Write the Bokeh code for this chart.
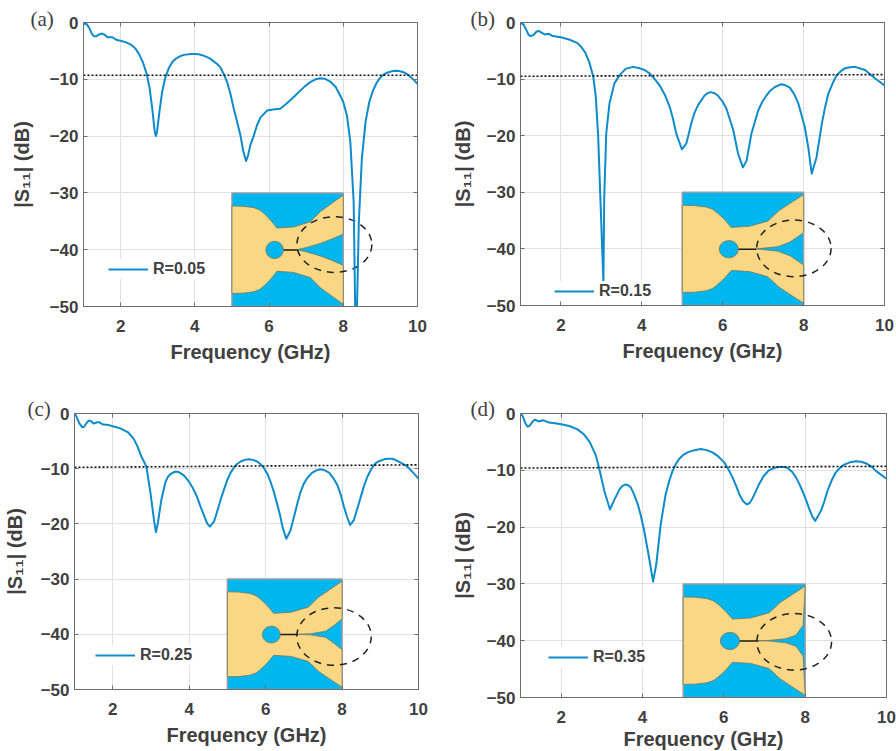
from bokeh.plotting import figure
from bokeh.layouts import column, row
from bokeh.models import Legend, LegendItem, Title, LinearAxis, FixedTicker, CustomJSTickFormatter
from bokeh.embed import file_html
from bokeh.resources import INLINE

# ---------- S11 curves (frequency GHz, dB) ----------
f_a = [1.0,1.08,1.15,1.22,1.28,1.35,1.42,1.5,1.58,1.65,1.78,1.9,2.0,2.15,2.3,2.4,2.5,2.6,2.7,2.78,2.85,2.92,2.95,2.98,3.05,3.12,3.2,3.3,3.4,3.5,3.6,3.7,3.9,4.0,4.1,4.2,4.3,4.4,4.5,4.6,4.69,4.78,4.87,4.96,5.05,5.15,5.23,5.3,5.38,5.43,5.5,5.59,5.68,5.77,5.95,6.1,6.3,6.45,6.57,6.7,6.84,6.97,7.11,7.25,7.38,7.5,7.65,7.8,7.92,8.0,8.1,8.19,8.28,8.32,8.37,8.42,8.5,8.6,8.7,8.8,8.9,8.95,9.0,9.1,9.2,9.3,9.4,9.5,9.6,9.7,9.8,9.9,10.0]
s_a = [-0.2,-0.25,-0.9,-1.9,-2.4,-2.4,-2.1,-1.95,-2.2,-2.6,-2.6,-3.1,-3.2,-3.5,-4.0,-4.6,-5.6,-7.0,-9.0,-11.5,-15,-19.3,-20,-19.3,-15.5,-12.2,-9.8,-8.0,-6.9,-6.3,-5.95,-5.7,-5.55,-5.55,-5.6,-5.75,-6.0,-6.3,-6.8,-7.3,-7.9,-9.1,-10.5,-12.6,-15.2,-17.8,-19.9,-22.5,-24.4,-23.5,-21.5,-19.9,-18,-16.7,-15.5,-15.3,-15.2,-14.4,-13.7,-12.9,-12,-11.2,-10.5,-10.0,-9.8,-9.9,-10.4,-11.4,-12.9,-14.0,-16.4,-21,-31.6,-50,-50,-35,-24,-17.5,-14,-12,-10.6,-10.1,-9.7,-9.1,-8.8,-8.6,-8.5,-8.55,-8.7,-9.0,-9.5,-10.1,-10.8]

f_b = [1,1.07,1.15,1.2,1.25,1.32,1.4,1.45,1.55,1.6,1.7,1.8,2,2.2,2.4,2.5,2.6,2.7,2.8,2.86,2.92,2.98,3.05,3.07,3.12,3.2,3.32,3.45,3.6,3.78,3.95,4.07,4.19,4.32,4.44,4.57,4.69,4.77,4.85,4.99,5.1,5.22,5.3,5.39,5.55,5.62,5.7,5.8,5.88,6.0,6.09,6.26,6.38,6.5,6.59,6.71,6.88,6.98,7.08,7.18,7.29,7.45,7.55,7.66,7.77,7.87,8.03,8.12,8.2,8.32,8.45,8.53,8.61,8.72,8.82,8.92,9.02,9.15,9.27,9.52,9.77,10]
s_b = [-0.1,-0.3,-1.4,-2.2,-2.4,-2.2,-1.6,-1.5,-1.9,-2.1,-2.0,-2.4,-2.6,-3.0,-3.6,-4.3,-5.3,-7,-9.6,-13,-20,-32,-46,-31,-19.6,-14.3,-10.8,-9.3,-8.2,-7.84,-8.1,-8.4,-9,-10,-11.1,-12.8,-14.9,-17,-19.6,-22.4,-21.4,-17.9,-16,-14.6,-12.9,-12.5,-12.3,-12.5,-12.9,-14,-15.2,-19,-23.2,-25.6,-24.4,-19.6,-15.5,-14,-12.9,-12,-11.4,-10.9,-11.1,-11.5,-12.7,-14.3,-18.5,-22.3,-26.7,-23.8,-17.9,-15,-12.6,-10.7,-9.3,-8.6,-8.1,-7.9,-7.84,-8.4,-9.9,-11.1]

f_c = [1,1.05,1.12,1.2,1.25,1.3,1.37,1.42,1.5,1.6,1.65,1.75,1.9,2,2.2,2.4,2.55,2.65,2.75,2.88,2.99,3.08,3.13,3.18,3.27,3.38,3.45,3.51,3.58,3.66,3.75,3.86,3.97,4.08,4.2,4.3,4.38,4.47,4.54,4.65,4.73,4.82,4.91,5.0,5.08,5.17,5.26,5.35,5.45,5.56,5.67,5.78,5.87,5.96,6.05,6.13,6.22,6.31,6.38,6.44,6.54,6.65,6.74,6.83,6.91,7.0,7.1,7.22,7.33,7.44,7.55,7.66,7.77,7.88,7.97,8.05,8.13,8.21,8.31,8.4,8.49,8.57,8.66,8.77,8.88,8.98,9.1,9.2,9.32,9.42,9.53,9.64,9.75,9.87,10]
s_c = [0,-0.5,-1.7,-2.5,-2.4,-1.9,-1.3,-1.3,-1.8,-1.6,-1.6,-2,-2.1,-2.3,-2.7,-3.4,-4.6,-6,-7.8,-9.6,-14.5,-19.3,-21.5,-19.9,-15.7,-12.4,-11.4,-11,-10.7,-10.5,-10.7,-11.2,-12.1,-13.3,-15,-16.9,-18.3,-19.9,-20.5,-19.6,-17.8,-15.7,-13.8,-12,-10.8,-9.8,-9.1,-8.7,-8.4,-8.3,-8.4,-8.7,-9.2,-9.9,-11,-12.4,-14.3,-16.6,-18.5,-20.5,-22.7,-21.2,-18.8,-16.3,-14.3,-12.7,-11.6,-10.7,-10.3,-10.1,-10.3,-10.7,-11.7,-13,-14.8,-16.9,-18.7,-20.2,-19.3,-17.2,-15.1,-13.2,-11.5,-10,-9,-8.6,-8.3,-8.2,-8.2,-8.5,-8.9,-9.3,-9.9,-10.8,-11.8]

f_d = [1,1.05,1.12,1.17,1.22,1.3,1.35,1.45,1.55,1.6,1.7,1.85,2,2.2,2.4,2.55,2.7,2.85,2.93,3.06,3.2,3.3,3.43,3.5,3.57,3.64,3.71,3.79,3.88,3.96,4.04,4.16,4.26,4.34,4.45,4.57,4.66,4.74,4.82,4.9,5.0,5.11,5.25,5.43,5.58,5.72,5.87,6.01,6.11,6.21,6.3,6.38,6.47,6.56,6.63,6.7,6.78,6.87,6.98,7.11,7.23,7.36,7.47,7.57,7.67,7.77,7.85,7.93,8.02,8.1,8.18,8.25,8.39,8.47,8.55,8.65,8.75,8.85,8.96,9.1,9.25,9.38,9.5,9.62,9.74,9.87,10]
s_d = [0,-0.4,-1.7,-2.3,-2.2,-1.4,-1.1,-1.4,-1.2,-1.3,-1.6,-1.7,-1.9,-2.2,-2.8,-3.6,-5,-7.3,-9.5,-13.6,-16.9,-15.3,-13.4,-12.8,-12.5,-12.6,-13,-14.2,-15.9,-18,-20.6,-25.3,-29.6,-26.5,-19.4,-14.2,-11.8,-10.1,-8.9,-8,-7.3,-6.85,-6.5,-6.26,-6.45,-6.85,-7.6,-8.6,-9.8,-11.2,-12.7,-14.2,-15.4,-16,-15.8,-15,-13.8,-12.4,-11,-10,-9.6,-9.4,-9.4,-9.6,-10.2,-11.2,-12.3,-13.6,-15.2,-16.8,-18.2,-18.9,-17.1,-15.5,-13.6,-11.8,-10.4,-9.6,-9,-8.6,-8.4,-8.5,-8.8,-9.3,-10.1,-10.8,-11.5]

# ---------- text ----------
panel_tags = ["(a)", "(b)", "(c)", "(d)"]
legend_labels = ["R=0.05", "R=0.15", "R=0.25", "R=0.35"]
x_title = "Frequency (GHz)"
y_title = "|S\u2081\u2081| (dB)"
x_ticks = [2, 4, 6, 8, 10]
y_ticks = [0, -10, -20, -30, -40, -50]

# ---------- dotted -10 dB reference line (left and right ends) ----------
dot_y = [(-9.3, -9.3), (-9.5, -9.2), (-9.75, -9.3), (-9.6, -9.3)]

# ---------- antenna inset outline, in axis units (upper half, mirrored about -40) ----------
shape_x = [5.0, 5.3, 5.59, 5.75, 5.86, 6.0, 6.08, 6.21, 6.66, 7.11, 7.25, 7.38, 7.74, 8.0]
shape_y = [-32.3, -32.35, -32.6, -33.0, -33.6, -34.5, -35.1, -36.2, -36.0, -35.1, -34.2, -33.3, -31.6, -30.4]
notch_x = [[8.0, 7.7, 7.38, 7.02, 6.75],
           [8.0, 7.66, 7.37, 6.83],
           [8.0, 7.79, 7.57, 7.18, 6.85],
           [7.95, 7.77, 7.52, 7.11, 6.85]]
notch_y = [[-37.25, -38.1, -38.9, -39.6, -40.0],
           [-37.15, -38.8, -39.6, -40.0],
           [-37.2, -38.4, -39.45, -39.9, -40.0],
           [-37.3, -39.05, -39.65, -39.95, -40.0]]
ring_x = [7.76, 7.76, 7.79, 7.73]
ring_y = [-39.1, -39.9, -40.4, -40.2]
ring_w = [2.02, 1.84, 1.95, 1.84]
ring_h = [9.8, 10.0, 10.4, 9.95]

INK = "#404040"
BLUE = "#0E8BCB"
FONT = "Liberation Sans"

# layout of each panel: left, frame w, right, top, frame h, bottom
boxes = [(83, 334, 31, 21, 284, 95),
         (71, 364, 13, 22, 283, 95),
         (74, 344, 30, 13, 276, 62),
         (71, 366, 11, 13, 284, 54)]
legend_at = [(25, 27), (34, 4), (21, 24), (28, 30)]
tag_offset = [-53, -50, -47, -50]
tag_standoff = [-17, -17, -15, -15]
label_gap = [14, 10, 12, 10]
x_label_gap = [6, 6, 6, 2]
curves = [(f_a, s_a), (f_b, s_b), (f_c, s_c), (f_d, s_d)]


def panel(i):
    l, w, r, t, h, b = boxes[i]
    tag = Title(text=panel_tags[i], align="left", offset=tag_offset[i], standoff=tag_standoff[i],
                text_font="Liberation Serif", text_font_size="21px", text_font_style="normal",
                text_color=INK)
    p = figure(frame_width=w, frame_height=h, min_border_left=l, min_border_right=r,
               min_border_top=t, min_border_bottom=b, x_range=(1, 10), y_range=(-50, 0),
               toolbar_location=None, output_backend="svg", background_fill_color="white",
               border_fill_color=None, outline_line_color="#6e6e6e", outline_line_width=1,
               title=tag)

    p.xgrid.ticker = FixedTicker(ticks=x_ticks)
    p.ygrid.ticker = FixedTicker(ticks=y_ticks)
    p.grid.grid_line_color = "#dfe1e6"
    p.grid.grid_line_width = 1

    for ax, ticks, title in ((p.xaxis[0], x_ticks, x_title), (p.yaxis[0], y_ticks, y_title)):
        ax.ticker = FixedTicker(ticks=ticks)
        ax.axis_label = title
        ax.axis_label_text_font = FONT
        ax.axis_label_text_font_style = "bold"
        ax.axis_label_text_font_size = "20px"
        ax.axis_label_text_color = INK
        ax.major_label_text_font = FONT
        ax.major_label_text_font_style = "bold"
        ax.major_label_text_font_size = "17px"
        ax.major_label_text_color = INK
        ax.axis_line_color = "#6e6e6e"
        ax.major_tick_line_color = "#6e6e6e"
        ax.major_tick_in = 4
        ax.major_tick_out = 0
        ax.minor_tick_line_color = None
    p.xaxis[0].major_label_standoff = 13
    p.xaxis[0].axis_label_standoff = x_label_gap[i]
    p.yaxis[0].major_label_standoff = 5
    p.yaxis[0].axis_label_standoff = label_gap[i]

    blank = CustomJSTickFormatter(code="return ''")
    for ticks, side in ((y_ticks, "right"), (x_ticks, "above")):
        a = LinearAxis(ticker=FixedTicker(ticks=ticks), formatter=blank, major_tick_in=4,
                       major_tick_out=0, minor_tick_line_color=None, major_label_standoff=0,
                       axis_line_color="#6e6e6e", major_tick_line_color="#6e6e6e",
                       major_label_text_font_size="1px")
        p.add_layout(a, side)

    # antenna inset
    p.quad(left=[5], right=[8], top=[-30], bottom=[-50], fill_color="#00B6EE",
           line_color="#9a9ea6", line_width=1.5)
    nx, ny = notch_x[i], notch_y[i]
    xs = shape_x + nx + nx[-2::-1] + shape_x[::-1]
    ys = shape_y + ny + [-80 - v for v in ny[-2::-1]] + [-80 - v for v in shape_y[::-1]]
    p.patch(xs, ys, fill_color="#F9D785", line_color="#77775a", line_width=0.8)
    p.ellipse([6.15], [-40.05], width=0.47, height=3.05, fill_color="#00B6EE",
              line_color="#77775a", line_width=0.8)
    p.line([6.39, nx[-1]], [-40.05, -40.05], line_color="#1a1a1a", line_width=1.5)
    p.ellipse([ring_x[i]], [ring_y[i]], width=ring_w[i], height=ring_h[i], fill_color=None,
              line_color="#222222", line_width=1.5, line_dash="7 6")

    # curves
    fx, sy = curves[i]
    main = p.line(fx, sy, line_color=BLUE, line_width=2, line_join="round")
    p.line([1, 10], list(dot_y[i]), line_color="#111111", line_width=1.6, line_dash="2 2")

    leg = Legend(items=[LegendItem(label=legend_labels[i], renderers=[main])],
                 location=legend_at[i], border_line_color=None, background_fill_color="white",
                 background_fill_alpha=1, padding=4, margin=0, spacing=0, glyph_width=40,
                 glyph_height=20, label_standoff=5, label_text_font=FONT,
                 label_text_font_style="bold", label_text_font_size="16px",
                 label_text_color=INK)
    p.add_layout(leg)
    return p


page = column(row(panel(0), panel(1)), row(panel(2), panel(3)))
open("out.html", "w").write(file_html(page, INLINE))
